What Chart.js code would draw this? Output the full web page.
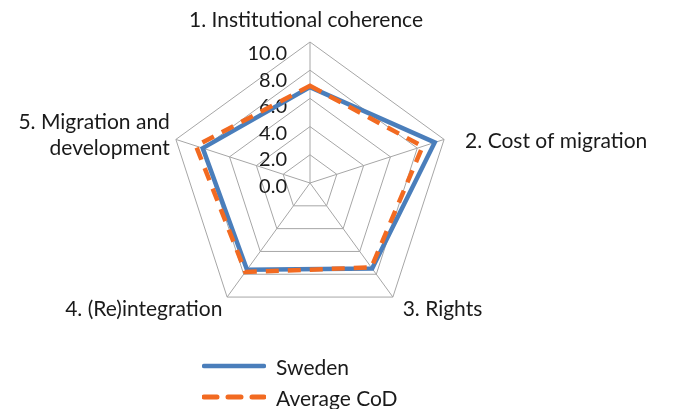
<!DOCTYPE html>
<html>
<head>
<meta charset="utf-8">
<script src="https://cdn.jsdelivr.net/npm/chart.js@4"></script>
<style>
  body { margin: 0; background: #fff; }
  #wrap { position: relative; width: 673px; height: 409px; }
  .legend { position: absolute; left: 202px; height: 24px; line-height: 24px; font: 21px Lato, sans-serif; color: #1a1a1a; display: flex; align-items: center; }
  .legend svg { margin-right: 10px; }
</style>
</head>
<body>
<div id="wrap">
  <canvas id="radar-chart"></canvas>
  <div class="legend" style="top:354px">
    <svg width="64" height="8"><line x1="2" y1="4" x2="62" y2="4" stroke="#4A7EBB" stroke-width="4.5" stroke-linecap="round"/></svg>Sweden
  </div>
  <div class="legend" style="top:385px">
    <svg width="64" height="8"><line x1="2" y1="4" x2="62" y2="4" stroke="#F26A21" stroke-width="5" stroke-linecap="round" stroke-dasharray="13 11"/></svg>Average CoD
  </div>
</div>
<script>
const categories = ['1. Institutional coherence', '2. Cost of migration', '3. Rights', '4. (Re)integration', ['5. Migration and', 'development']];
const swedenValues = [6.8, 9.3, 7.5, 7.6, 8.0];
const averageValues = [6.9, 8.4, 7.4, 7.8, 8.5];
const tickValues = [0, 2, 4, 6, 8, 10];

// offsets for the axis labels (dx, dy from the label anchor)
const labelNudge = [[-4, 5], [2, 15], [-2, 3], [7, 3], [13, -4]];

const labelsPlugin = {
  id: 'customLabels',
  beforeDatasetsDraw(chart) {
    const scale = chart.scales.r;
    const ctx = chart.ctx;
    ctx.save();
    ctx.fillStyle = '#1a1a1a';
    ctx.font = '20px Lato, sans-serif';
    ctx.textAlign = 'right';
    ctx.textBaseline = 'alphabetic';
    tickValues.forEach(v => {
      const d = scale.getDistanceFromCenterForValue(v);
      ctx.fillText(v.toFixed(1), scale.xCenter - 23, scale.yCenter + 10 - d * 0.94);
    });
    ctx.restore();
  },
  afterDraw(chart) {
    const scale = chart.scales.r;
    const ctx = chart.ctx;
    ctx.save();
    ctx.fillStyle = '#1a1a1a';
    ctx.font = '21px Lato, sans-serif';
    ctx.textBaseline = 'alphabetic';
    categories.forEach((label, i) => {
      const p = scale.getPointPosition(i, scale.drawingArea + 20);
      const x = p.x + labelNudge[i][0];
      const y = p.y + labelNudge[i][1];
      if (Math.abs(p.x - scale.xCenter) < 2) ctx.textAlign = 'center';
      else if (p.x > scale.xCenter) ctx.textAlign = 'left';
      else ctx.textAlign = 'right';
      const lines = Array.isArray(label) ? label : [label];
      lines.forEach((line, j) => ctx.fillText(line, x, y + j * 26));
    });
    ctx.restore();
  }
};

new Chart(document.getElementById('radar-chart'), {
  type: 'radar',
  data: {
    labels: categories,
    datasets: [
      {
        label: 'Sweden',
        data: swedenValues,
        borderColor: '#4A7EBB',
        borderWidth: 4.5,
        fill: false,
        order: 1,
      },
      {
        label: 'Average CoD',
        data: averageValues,
        borderColor: '#F26A21',
        borderWidth: 4.5,
        borderDash: [13, 9],
        fill: false,
        order: 0,
      },
    ],
  },
  options: {
    responsive: true,
    maintainAspectRatio: false,
    animation: false,
    layout: { padding: { left: 169, top: 42, right: 222, bottom: 85 } },
    elements: { point: { radius: 0, hoverRadius: 0 }, line: { tension: 0 } },
    plugins: { legend: { display: false }, tooltip: { enabled: false } },
    scales: {
      r: {
        min: 0,
        max: 10,
        ticks: { stepSize: 2, display: false },
        grid: { color: '#A6A6A6', lineWidth: 1 },
        angleLines: { color: '#A6A6A6', lineWidth: 1 },
        pointLabels: { display: false },
      },
    },
  },
  plugins: [labelsPlugin],
});
</script>
</body>
</html>
